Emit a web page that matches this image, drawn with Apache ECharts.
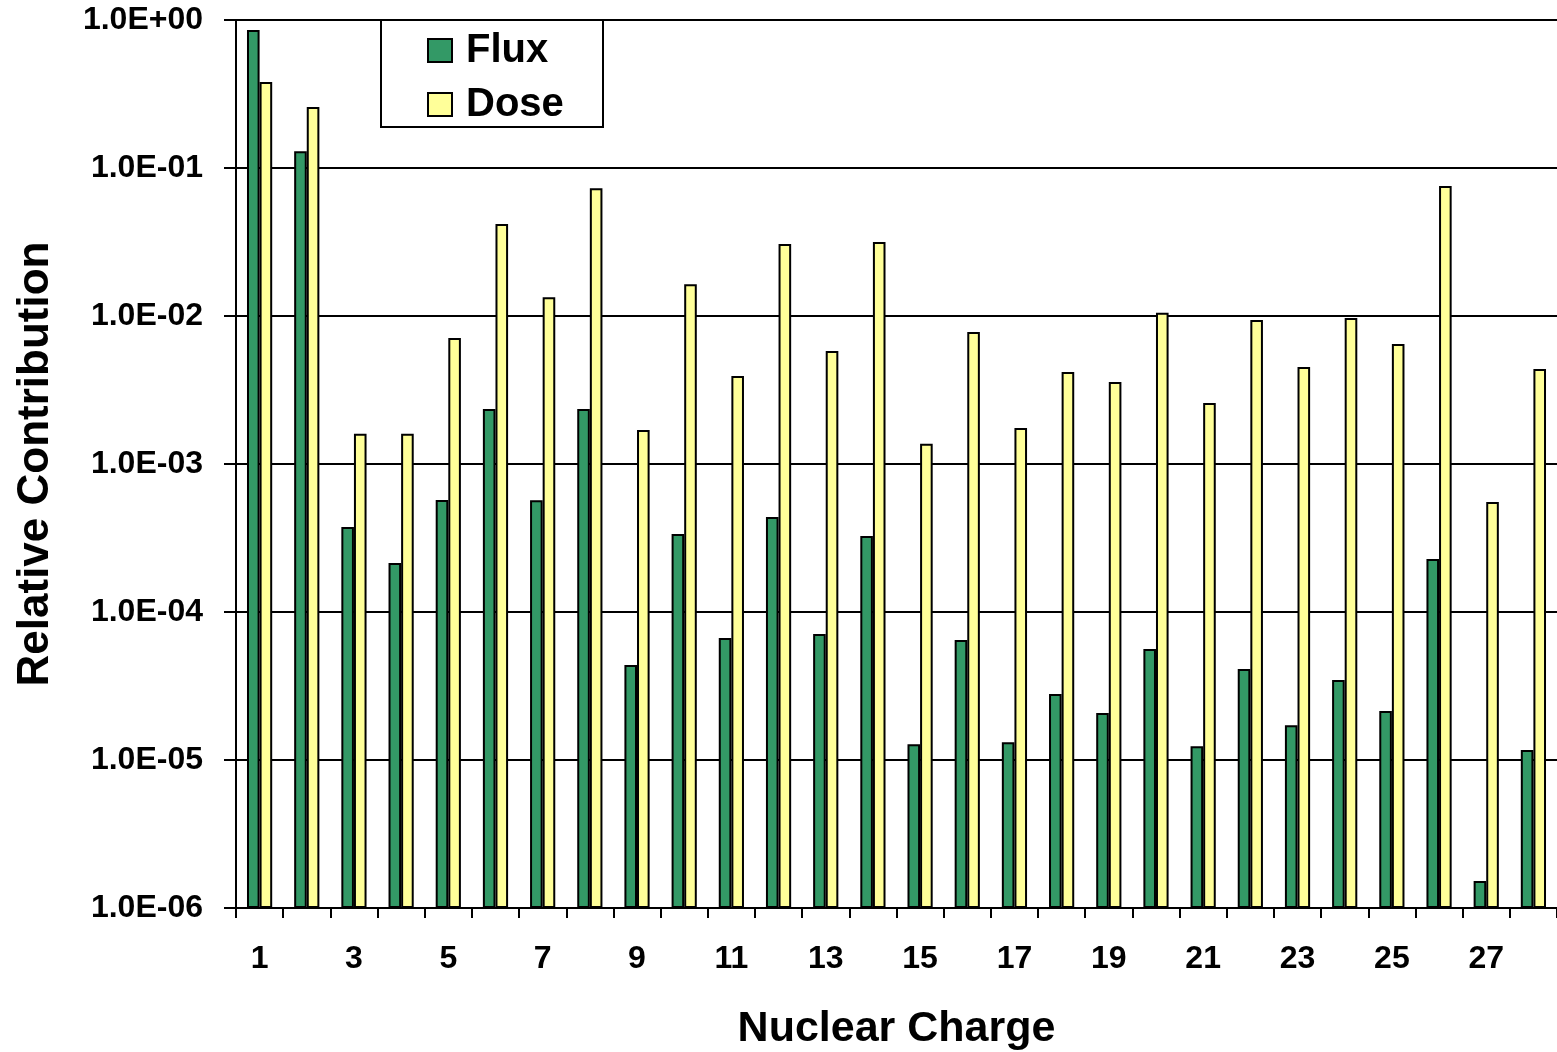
<!DOCTYPE html>
<html>
<head>
<meta charset="utf-8">
<script src="https://cdn.jsdelivr.net/npm/echarts@6/dist/echarts.min.js"></script>
<style>
  html, body { margin: 0; padding: 0; background: #ffffff; }
  #chart { width: 1557px; height: 1052px; }
</style>
</head>
<body>
<div id="chart"></div>
<script>
// Nuclear charge Z = 1 .. 28
const charges = ['1','2','3','4','5','6','7','8','9','10','11','12','13','14',
                 '15','16','17','18','19','20','21','22','23','24','25','26','27','28'];

// Relative contribution to particle flux
const flux = [0.856, 0.130, 3.75e-4, 2.14e-4, 5.71e-4, 2.35e-3, 5.7e-4, 2.35e-3,
              4.38e-5, 3.37e-4, 6.67e-5, 4.38e-4, 7.1e-5, 3.26e-4, 1.28e-5, 6.47e-5,
              1.32e-5, 2.79e-5, 2.08e-5, 5.62e-5, 1.24e-5, 4.12e-5, 1.72e-5, 3.47e-5,
              2.14e-5, 2.28e-4, 1.52e-6, 1.17e-5];

// Relative contribution to dose
const dose = [0.381, 0.258, 1.6e-3, 1.6e-3, 7.1e-3, 4.18e-2, 1.34e-2, 7.3e-2,
              1.7e-3, 1.64e-2, 3.93e-3, 3.06e-2, 5.8e-3, 3.16e-2, 1.37e-3, 7.8e-3,
              1.75e-3, 4.19e-3, 3.58e-3, 1.05e-2, 2.58e-3, 9.4e-3, 4.52e-3, 9.7e-3,
              6.47e-3, 7.56e-2, 5.54e-4, 4.38e-3];

const FONT = '"Liberation Sans", Arial, sans-serif';

function sciLabel(v) {
  const e = Math.round(Math.log10(v));
  const sign = e < 0 ? '-' : '+';
  return '1.0E' + sign + String(Math.abs(e)).padStart(2, '0');
}

const chart = echarts.init(document.getElementById('chart'), null, { renderer: 'canvas' });

chart.setOption({
  backgroundColor: '#ffffff',
  animation: false,
  grid: { left: 236, top: 20, right: 0, bottom: 144, containLabel: false, outerBoundsMode: 'none' },
  graphic: [{
    type: 'rect',
    shape: { x: 381, y: 20, width: 222, height: 107 },
    style: { fill: '#ffffff', stroke: '#000000', lineWidth: 2 },
    z: 10
  }],
  legend: {
    left: 427, top: 29,
    padding: 0,
    orient: 'vertical',
    itemWidth: 24, itemHeight: 23, itemGap: 11,
    z: 11,
    textStyle: { fontFamily: FONT, fontWeight: 'bold', fontSize: 40, color: '#000', lineHeight: 40, padding: [3, 0, 0, 9] },
    data: [
      { name: 'Flux', icon: 'rect', itemStyle: { color: '#339966', borderColor: '#000', borderWidth: 2 } },
      { name: 'Dose', icon: 'rect', itemStyle: { color: '#FFFF99', borderColor: '#000', borderWidth: 2 } }
    ]
  },
  xAxis: {
    type: 'category',
    data: charges,
    boundaryGap: true,
    name: 'Nuclear Charge',
    nameLocation: 'middle',
    nameGap: 100,
    nameTextStyle: { fontFamily: FONT, fontWeight: 'bold', fontSize: 43, color: '#000' },
    axisLine: { show: true, lineStyle: { color: '#000', width: 2 } },
    axisTick: { show: true, interval: 0, length: 10, lineStyle: { color: '#000', width: 2 } },
    axisLabel: { interval: 1, margin: 35, fontFamily: FONT, fontWeight: 'bold', fontSize: 32, color: '#000' },
    splitLine: { show: false }
  },
  yAxis: {
    type: 'log',
    logBase: 10,
    min: 1e-6,
    max: 1,
    startValue: 1e-6,
    name: 'Relative Contribution',
    nameLocation: 'middle',
    nameRotate: 90,
    nameGap: 178,
    nameTextStyle: { fontFamily: FONT, fontWeight: 'bold', fontSize: 44, color: '#000' },
    axisLine: { show: true, lineStyle: { color: '#000', width: 2 } },
    axisTick: { show: true, length: 12, lineStyle: { color: '#000', width: 2 } },
    axisLabel: { margin: 33, formatter: sciLabel, fontFamily: FONT, fontWeight: 'bold', fontSize: 32, color: '#000' },
    splitLine: { show: true, lineStyle: { color: '#000', width: 2 } },
    minorTick: { show: false }
  },
  series: [
    {
      name: 'Flux', type: 'bar', data: flux,
      barWidth: 12.6, barGap: '0%',
      itemStyle: { color: '#339966', borderColor: '#000', borderWidth: 2 }
    },
    {
      name: 'Dose', type: 'bar', data: dose,
      barWidth: 12.6, barGap: '0%',
      itemStyle: { color: '#FFFF99', borderColor: '#000', borderWidth: 2 }
    }
  ]
});
</script>
</body>
</html>
